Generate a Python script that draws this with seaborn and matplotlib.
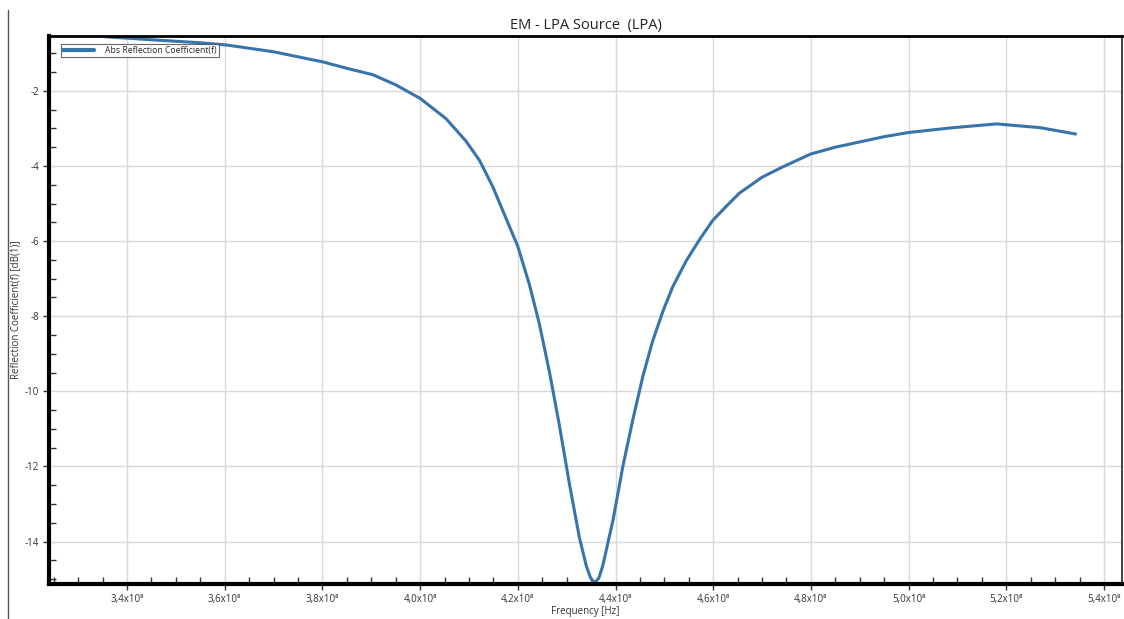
import numpy as np
import pandas as pd
import matplotlib
matplotlib.use("Agg")
import matplotlib.pyplot as plt
from matplotlib.lines import Line2D
from matplotlib.ticker import MultipleLocator, FuncFormatter
import seaborn as sns

# frequency in units of 1e8 Hz, reflection coefficient in dB
freq_e8 = [3.355, 3.45, 3.55, 3.604, 3.70, 3.801, 3.85, 3.903, 3.95, 4.00,
           4.053, 4.094, 4.122, 4.149, 4.176, 4.20, 4.224, 4.244, 4.265, 4.285,
           4.306, 4.326, 4.34, 4.349, 4.357, 4.366, 4.374, 4.395, 4.415, 4.436,
           4.456, 4.476, 4.497, 4.517, 4.545, 4.572, 4.599, 4.627, 4.654, 4.70,
           4.743, 4.80, 4.85, 4.90, 4.95, 5.00, 5.084, 5.18, 5.269, 5.342]
refl_db = [-0.56, -0.64, -0.72, -0.78, -0.96, -1.23, -1.40, -1.57, -1.84, -2.2,
           -2.74, -3.34, -3.86, -4.56, -5.40, -6.14, -7.17, -8.20, -9.50, -10.90,
           -12.49, -13.89, -14.64, -14.97, -15.1, -14.97, -14.64, -13.42, -12.0, -10.72,
           -9.6, -8.66, -7.87, -7.22, -6.52, -5.96, -5.45, -5.07, -4.72, -4.30,
           -4.02, -3.68, -3.50, -3.36, -3.22, -3.11, -2.99, -2.88, -2.98, -3.15]
series_name = "Abs Reflection Coefficient(f)"

df = pd.DataFrame({"Frequency": np.array(freq_e8) * 1e8, "Refl": refl_db,
                   "series": series_name})

sns.set_style("white")
plt.rcParams["font.family"] = ["Open Sans", "DejaVu Sans"]

fig = plt.figure(figsize=(11.24, 6.19), dpi=100)
ax = fig.add_axes([49 / 1124, 1 - 584 / 619, (1122 - 49) / 1124, (584 - 36) / 619])

sns.lineplot(data=df, x="Frequency", y="Refl", hue="series", palette=["#3774ab"],
             linewidth=2.2, ax=ax, sort=False)

ax.set_xlim(3.2403e8, 5.4368e8)
ax.set_ylim(-15.13, -0.54)

ax.xaxis.set_major_locator(MultipleLocator(0.2e8))
ax.xaxis.set_minor_locator(MultipleLocator(0.05e8))
ax.yaxis.set_major_locator(MultipleLocator(2))
ax.yaxis.set_minor_locator(MultipleLocator(0.5))
ax.xaxis.set_major_formatter(FuncFormatter(
    lambda v, p: f"{v / 1e8:.1f}".replace(".", ",") + "x10\u2078"))
ax.yaxis.set_major_formatter(FuncFormatter(lambda v, p: f"{v:g}"))

ax.tick_params(which="major", direction="out", length=4, width=1, color="#333333",
               labelsize=7, labelcolor="#333333", pad=3)
ax.tick_params(which="minor", direction="in", length=5, width=1, color="#333333")
ax.tick_params(axis="x", which="both", bottom=True)
ax.tick_params(axis="y", which="both", left=True)

ax.grid(True, which="major", color="#d9d9d9", linewidth=1)

for side in ["left", "bottom"]:
    ax.spines[side].set_linewidth(3)
    ax.spines[side].set_color("black")
ax.spines["top"].set_linewidth(2)
ax.spines["top"].set_color("black")
ax.spines["right"].set_linewidth(1.2)
ax.spines["right"].set_color("#222222")

ax.set_xlabel("Frequency [Hz]", fontsize=7, color="#333333", labelpad=1)
ax.set_ylabel("Reflection Coefficient(f) [dB(1)]", fontsize=7, color="#333333", labelpad=3)
ax.set_title("EM - LPA Source  (LPA)", fontsize=10.5, color="#222222", pad=5)

leg = ax.legend(loc="upper left", bbox_to_anchor=(0.0115, 0.985), fontsize=6.2,
                frameon=True, fancybox=False, borderpad=0.2, handlelength=3.6,
                handletextpad=1.3, borderaxespad=0)
leg.get_frame().set_edgecolor("#444444")
leg.get_frame().set_linewidth(0.8)
for h in leg.get_lines():
    h.set_linewidth(3)

fig.add_artist(Line2D([8 / 1124, 8 / 1124], [0, 1 - 10 / 619], color="#555555",
                      linewidth=1))

fig.savefig("out.png", dpi=100)
